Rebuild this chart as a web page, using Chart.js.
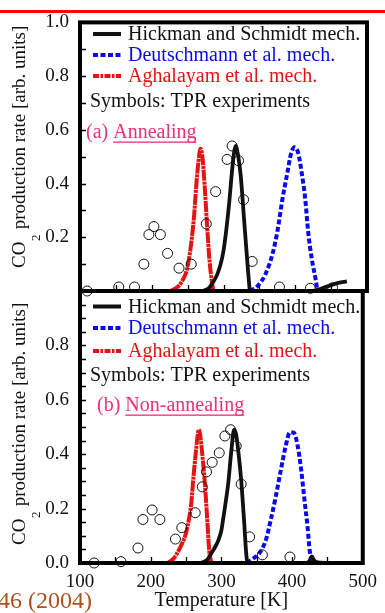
<!DOCTYPE html>
<html>
<head>
<meta charset="utf-8">
<script src="https://cdn.jsdelivr.net/npm/chart.js@4.4.1/dist/chart.umd.min.js"></script>
<style>
  body { margin: 0; background: #fff; width: 385px; height: 613px; overflow: hidden; position: relative; }
  canvas { position: absolute; left: 0; top: 0; }
  #topline { position: absolute; left: 0; top: 9.5px; width: 385px; height: 3px; background: #ff0000; z-index: 5; }
  #cite { position: absolute; right: 293px; top: 587px; font: 24px "Liberation Serif", serif; color: #b0501e; white-space: nowrap; z-index: 5; }
</style>
</head>
<body>
<div id="topline"></div>
<div id="cite">46 (2004)</div>
<canvas id="chartA" width="385" height="613"></canvas>
<canvas id="chartB" width="385" height="613"></canvas>

<script>
// x axis
const xTicks = [100, 200, 300, 400, 500];
const xMinor = [150, 200, 250, 300, 350, 400, 450];

// (a) Annealing
const expTa = [110, 154, 176, 189, 196, 203, 212, 222, 238, 255, 276, 289, 305, 312, 321, 328, 340, 378, 421, 452];
const expVa = [0.0, 0.015, 0.015, 0.10, 0.21, 0.24, 0.21, 0.14, 0.085, 0.10, 0.25, 0.37, 0.49, 0.54, 0.485, 0.34, 0.11, 0.015, 0.01, 0.012];
const hsTa = [272, 280, 286, 291, 296, 300, 304, 308, 312, 315, 317, 320, 324, 328, 332, 335, 337, 425, 432, 440, 450, 460, 472];
const hsVa = [0, 0.012, 0.035, 0.06, 0.1, 0.15, 0.23, 0.33, 0.45, 0.52, 0.54, 0.51, 0.43, 0.29, 0.15, 0.05, 0, 0, 0.005, 0.013, 0.022, 0.03, 0.036];
const deTa = [337, 348, 358, 368, 375, 382, 389, 394, 399, 404, 409, 414, 418, 423, 428, 431];
const deVa = [0, 0.02, 0.06, 0.135, 0.22, 0.34, 0.44, 0.51, 0.535, 0.515, 0.44, 0.34, 0.22, 0.12, 0.05, 0];
const agTa = [226, 232, 238, 243, 248, 252, 256, 259, 262, 265, 268, 271, 274, 277, 280, 283, 286];
const agVa = [0, 0.008, 0.02, 0.04, 0.07, 0.12, 0.2, 0.28, 0.39, 0.48, 0.53, 0.49, 0.38, 0.25, 0.13, 0.05, 0];
const yLabelsA = [0.2, 0.4, 0.6, 0.8, 1.0];
const yMinorA = [0.1, 0.2, 0.3, 0.4, 0.5, 0.6, 0.7, 0.8, 0.9];

// (b) Non-annealing
const expTb = [120, 158, 182, 189, 202, 213, 235, 244, 263, 273, 279, 287, 297, 305, 313, 321, 328, 340, 358, 397];
const expVb = [0.0, 0.005, 0.055, 0.16, 0.195, 0.16, 0.088, 0.13, 0.185, 0.28, 0.335, 0.37, 0.405, 0.467, 0.49, 0.43, 0.29, 0.096, 0.03, 0.022];
const hsTb = [270, 280, 286, 291, 296, 300, 303, 307, 310, 314, 318, 321, 324, 328, 332, 335, 337, 421, 425, 428, 431, 436, 450];
const hsVb = [0, 0.012, 0.037, 0.058, 0.085, 0.12, 0.17, 0.24, 0.3, 0.41, 0.49, 0.47, 0.41, 0.305, 0.16, 0.04, 0, 0, 0.01, 0.024, 0.01, 0.002, 0];
const deTb = [336, 344, 354, 363, 370, 377, 384, 391, 397, 402, 408, 413, 417, 422, 425, 429];
const deVb = [0, 0.015, 0.037, 0.085, 0.16, 0.245, 0.34, 0.43, 0.48, 0.48, 0.43, 0.34, 0.245, 0.13, 0.045, 0];
const agTb = [224, 232, 240, 245, 250, 254, 257, 261, 264, 266, 268, 270, 273, 277, 280, 283, 286];
const agVb = [0, 0.015, 0.048, 0.075, 0.11, 0.16, 0.21, 0.33, 0.41, 0.46, 0.49, 0.47, 0.40, 0.28, 0.16, 0.04, 0];
const yLabelsB = [0.0, 0.2, 0.4, 0.6, 0.8];
const yMinorB = [0.05, 0.1, 0.15, 0.2, 0.25, 0.3, 0.35, 0.4, 0.45, 0.5, 0.55, 0.6, 0.65, 0.7, 0.75, 0.8, 0.85, 0.9, 0.95];

const FONT = '"Liberation Serif", "Times New Roman", serif';
const BLACK = '#111111', BLUE = '#0a0ae8', RED = '#e41414', PINK = '#e8307c';
const BLUE_DASH = [5, 2.5], RED_DASH = [11, 0.8, 3, 0.8];

function pts(xs, ys) {
    return xs.map(function (x, i) { return { x: x, y: ys[i] }; });
}

// ticks, frame, legend and y title drawn over the plot
const panelPlugin = {
    id: 'panel',
    afterDatasetsDraw(chart, args, o) {
        const ctx = chart.ctx;
        const a = chart.chartArea;
        const xs = chart.scales.x, ys = chart.scales.y;
        ctx.save();

        // inward ticks
        ctx.strokeStyle = '#000';
        ctx.lineWidth = 1.3;
        ctx.beginPath();
        o.yMinor.forEach(function (v) {
            const py = Math.round(ys.getPixelForValue(v)) + 0.5;
            ctx.moveTo(a.left, py); ctx.lineTo(a.left + 6, py);
        });
        xMinor.forEach(function (v) {
            const px = Math.round(xs.getPixelForValue(v)) + 0.5;
            ctx.moveTo(px, a.bottom); ctx.lineTo(px, a.bottom - 6);
        });
        ctx.stroke();

        // frame
        ctx.lineWidth = 4;
        ctx.strokeRect(a.left, a.top, a.right - a.left, a.bottom - a.top);

        // legend
        const rows = [
            { text: 'Hickman and Schmidt mech.', color: BLACK, dash: [] },
            { text: 'Deutschmann et al. mech.', color: BLUE, dash: BLUE_DASH },
            { text: 'Aghalayam et al. mech.', color: RED, dash: [6, 1.5, 2.5, 1.5] }
        ];
        ctx.font = '20px ' + FONT;
        ctx.textBaseline = 'alphabetic';
        ctx.textAlign = 'left';
        rows.forEach(function (r, i) {
            const by = o.legendY[i];
            ctx.strokeStyle = r.color;
            ctx.lineWidth = 4;
            ctx.setLineDash(r.dash);
            ctx.beginPath();
            ctx.moveTo(93, by - 6); ctx.lineTo(121, by - 6);
            ctx.stroke();
            ctx.setLineDash([]);
            ctx.fillStyle = r.color;
            ctx.fillText(r.text, 128, by);
        });
        ctx.fillStyle = BLACK;
        ctx.fillText('Symbols: TPR experiments', 90, o.symY);

        // panel tag
        ctx.fillStyle = PINK;
        ctx.fillText(o.tag, o.tagX, o.tagY);
        const wx = o.tagX + ctx.measureText(o.tag).width;
        ctx.fillText(o.tagWord, wx, o.tagY);
        const ww = ctx.measureText(o.tagWord).width;
        ctx.fillRect(wx, o.tagY + 4, ww, 1.3);

        // y title with subscript
        ctx.translate(25, o.titleStart);
        ctx.rotate(-Math.PI / 2);
        ctx.fillStyle = BLACK;
        ctx.font = '19px ' + FONT;
        ctx.fillText('CO', 0, 0);
        let tx = ctx.measureText('CO').width;
        ctx.font = '13px ' + FONT;
        ctx.fillText('2', tx + 0.5, 15);
        tx += ctx.measureText('2').width + 1;
        ctx.font = '19px ' + FONT;
        ctx.fillText(' production rate [arb. units]', tx, 0);

        ctx.restore();
    }
};

function makeChart(id, d, o, isBottom) {
    const lineOpts = { showLine: true, fill: false, pointRadius: 0, borderCapStyle: 'butt', cubicInterpolationMode: 'monotone' };
    return new Chart(document.getElementById(id), {
        type: 'scatter',
        data: {
            datasets: [
                { label: 'TPR experiments', data: pts(d.expT, d.expV), pointRadius: 5, borderWidth: 1,
                  borderColor: BLACK, backgroundColor: 'rgba(0,0,0,0)', clip: false },
                Object.assign({ label: 'Hickman and Schmidt mech.', data: pts(d.hsT, d.hsV),
                  borderColor: BLACK, borderWidth: 3.8 }, lineOpts),
                Object.assign({ label: 'Deutschmann et al. mech.', data: pts(d.deT, d.deV),
                  borderColor: BLUE, borderWidth: 4, borderDash: BLUE_DASH }, lineOpts),
                Object.assign({ label: 'Aghalayam et al. mech.', data: pts(d.agT, d.agV),
                  borderColor: RED, borderWidth: 4, borderDash: RED_DASH }, lineOpts)
            ]
        },
        options: {
            responsive: false,
            animation: false,
            events: [],
            layout: { padding: isBottom ? { top: 291, right: 18, bottom: 0, left: 0 }
                                        : { top: 19, right: 18, bottom: 322, left: 0 } },
            plugins: { legend: { display: false }, tooltip: { enabled: false }, panel: o },
            scales: {
                x: {
                    type: 'linear', min: 100, max: 500,
                    display: isBottom,
                    afterBuildTicks: function (s) { s.ticks = xTicks.map(function (v) { return { value: v }; }); },
                    afterFit: function (s) { s.height = isBottom ? 50 : 0; },
                    grid: { display: false, drawTicks: false },
                    border: { display: false },
                    ticks: { padding: 8, color: BLACK, maxRotation: 0, autoSkip: false,
                             font: { family: FONT, size: 19 } },
                    title: { display: true, text: 'Temperature [K]', color: BLACK,
                             font: { family: FONT, size: 20 }, padding: { top: 0, bottom: 0 } }
                },
                y: {
                    type: 'linear', min: 0, max: 1,
                    afterBuildTicks: function (s) { s.ticks = o.yLabels.map(function (v) { return { value: v }; }); },
                    afterFit: function (s) { s.width = 80; },
                    grid: { display: false, drawTicks: false },
                    border: { display: false },
                    ticks: { padding: 11, color: BLACK, autoSkip: false,
                             font: { family: FONT, size: 19 },
                             callback: function (v) { return v.toFixed(1); } }
                }
            }
        },
        plugins: [panelPlugin]
    });
}

makeChart('chartA',
    { expT: expTa, expV: expVa, hsT: hsTa, hsV: hsVa, deT: deTa, deV: deVa, agT: agTa, agV: agVa },
    { yLabels: yLabelsA, yMinor: yMinorA, legendY: [40, 61, 82], symY: 106.5,
      tag: '(a) ', tagWord: 'Annealing', tagX: 86, tagY: 137.5, titleStart: 268 },
    false);

makeChart('chartB',
    { expT: expTb, expV: expVb, hsT: hsTb, hsV: hsVb, deT: deTb, deV: deVb, agT: agTb, agV: agVb },
    { yLabels: yLabelsB, yMinor: yMinorB, legendY: [312.5, 334, 357], symY: 380.5,
      tag: '(b) ', tagWord: 'Non-annealing', tagX: 97, tagY: 410.5, titleStart: 545 },
    true);
</script>
</body>
</html>
